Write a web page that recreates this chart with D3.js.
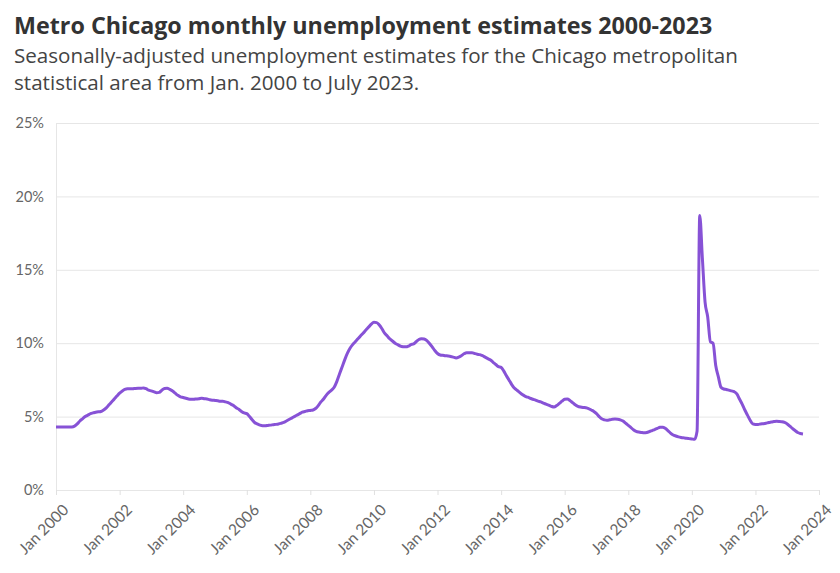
<html>
<head>
<meta charset="utf-8">
<script src="https://cdn.jsdelivr.net/npm/d3@7"></script>
<style>
  body { margin: 0; background: #fff; }
  text { font-family: Lato, "Open Sans", sans-serif; }
  .head { font-family: "Open Sans", Lato, sans-serif; }
</style>
</head>
<body>
<div id="chart"></div>
<script>
// monthly unemployment rate (%), Jan 2000 .. Jul 2023, one row per year
var rates = [
  4.3, 4.3, 4.3, 4.3, 4.3, 4.3, 4.3, 4.35, 4.5, 4.7, 4.85, 5.0,          // 2000
  5.1, 5.2, 5.25, 5.3, 5.33, 5.35, 5.45, 5.6, 5.8, 6.0, 6.2, 6.4,       // 2001
  6.6, 6.75, 6.85, 6.9, 6.9, 6.9, 6.92, 6.93, 6.93, 6.95, 6.9, 6.8,     // 2002
  6.75, 6.68, 6.63, 6.65, 6.8, 6.92, 6.93, 6.85, 6.75, 6.6, 6.45, 6.35, // 2003
  6.3, 6.25, 6.2, 6.18, 6.18, 6.2, 6.22, 6.25, 6.22, 6.2, 6.15, 6.12,   // 2004
  6.1, 6.08, 6.05, 6.05, 6.0, 5.95, 5.85, 5.75, 5.6, 5.5, 5.35, 5.25,   // 2005
  5.2, 5.0, 4.8, 4.6, 4.5, 4.42, 4.38, 4.38, 4.4, 4.42, 4.45, 4.47,     // 2006
  4.5, 4.55, 4.6, 4.7, 4.8, 4.9, 5.0, 5.1, 5.2, 5.3, 5.35, 5.4,         // 2007
  5.42, 5.45, 5.55, 5.75, 6.0, 6.2, 6.45, 6.65, 6.8, 7.0, 7.4, 7.9,     // 2008
  8.4, 8.9, 9.3, 9.65, 9.9, 10.1, 10.3, 10.5, 10.7, 10.9, 11.1, 11.3,   // 2009
  11.42, 11.4, 11.25, 11.0, 10.7, 10.5, 10.3, 10.15, 10.0, 9.9, 9.8, 9.76, // 2010
  9.75, 9.8, 9.9, 9.95, 10.1, 10.25, 10.3, 10.28, 10.18, 9.98, 9.75, 9.5,  // 2011
  9.3, 9.2, 9.18, 9.15, 9.13, 9.1, 9.05, 9.0, 9.05, 9.15, 9.28, 9.35,   // 2012
  9.35, 9.35, 9.3, 9.25, 9.22, 9.15, 9.05, 8.95, 8.85, 8.7, 8.55, 8.4,  // 2013
  8.35, 8.1, 7.8, 7.5, 7.2, 6.95, 6.8, 6.65, 6.5, 6.4, 6.32, 6.25,      // 2014
  6.18, 6.12, 6.05, 6.0, 5.92, 5.85, 5.78, 5.7, 5.65, 5.75, 5.9, 6.05,  // 2015
  6.18, 6.2, 6.1, 5.95, 5.8, 5.7, 5.65, 5.62, 5.6, 5.55, 5.45, 5.35,    // 2016
  5.2, 5.0, 4.85, 4.78, 4.75, 4.78, 4.82, 4.83, 4.82, 4.78, 4.7, 4.55,  // 2017
  4.4, 4.25, 4.1, 4.0, 3.95, 3.92, 3.9, 3.92, 3.98, 4.05, 4.12, 4.2,    // 2018
  4.27, 4.28, 4.2, 4.05, 3.88, 3.75, 3.68, 3.62, 3.58, 3.55, 3.52, 3.5, // 2019
  3.48, 3.45, 4.0, 18.7, 15.8, 12.8, 11.8, 10.1, 10.0, 8.5, 7.7, 7.0,   // 2020
  6.88, 6.85, 6.8, 6.75, 6.7, 6.55, 6.2, 5.85, 5.45, 5.1, 4.75, 4.5,    // 2021
  4.47, 4.47, 4.5, 4.52, 4.55, 4.6, 4.63, 4.66, 4.68, 4.67, 4.65, 4.6,  // 2022
  4.5, 4.35, 4.2, 4.05, 3.92, 3.85, 3.82                                // 2023
];
var startYear = 2000;
var xTickYears = [2000, 2002, 2004, 2006, 2008, 2010, 2012, 2014, 2016, 2018, 2020, 2022, 2024];
var yTicks = [0, 5, 10, 15, 20, 25];

var title = "Metro Chicago monthly unemployment estimates 2000-2023";
var subtitle = ["Seasonally-adjusted unemployment estimates for the Chicago metropolitan",
                "statistical area from Jan. 2000 to July 2023."];

var width = 840, height = 573;
var margin = {top: 123, right: 21, bottom: 83, left: 56};

var svg = d3.select("#chart").append("svg")
  .attr("width", width)
  .attr("height", height);

var data = rates.map(function (v, i) {
  return {date: new Date(startYear, i, 1), value: v};
});

var x = d3.scaleTime()
  .domain([new Date(xTickYears[0], 0, 1), new Date(xTickYears[xTickYears.length - 1], 0, 1)])
  .range([margin.left, width - margin.right]);
var y = d3.scaleLinear()
  .domain([0, 25])
  .range([height - margin.bottom, margin.top]);

// header
svg.append("text")
  .attr("class", "head")
  .attr("x", 14).attr("y", 34)
  .style("font-size", "23.3px").style("font-weight", "bold").style("fill", "#333")
  .text(title);
svg.selectAll(".sub").data(subtitle).enter().append("text")
  .attr("class", "sub head")
  .attr("x", 14).attr("y", function (d, i) { return 63 + i * 27; })
  .style("font-size", "20.6px").style("fill", "#444")
  .text(function (d) { return d; });

// y grid + labels
var yAxis = svg.append("g")
  .attr("transform", "translate(" + margin.left + ",0)")
  .call(d3.axisLeft(y).tickValues(yTicks)
    .tickSize(-(width - margin.left - margin.right))
    .tickPadding(12)
    .tickFormat(function (d) { return d + "%"; }));
yAxis.select(".domain").attr("stroke", "#e6e6e6");
yAxis.selectAll(".tick line").attr("stroke", "#e6e6e6");
yAxis.selectAll(".tick text").style("font-size", "14.5px").style("fill", "#666");

// x axis
var xAxis = svg.append("g")
  .attr("transform", "translate(0," + (height - margin.bottom) + ")")
  .call(d3.axisBottom(x)
    .tickValues(xTickYears.map(function (yr) { return new Date(yr, 0, 1); }))
    .tickSize(5)
    .tickFormat(d3.timeFormat("Jan %Y")));
xAxis.select(".domain").attr("stroke", "#e6e6e6");
xAxis.selectAll(".tick line").attr("stroke", "#e0e0e0");
xAxis.selectAll(".tick text")
  .style("font-size", "15.5px").style("fill", "#666")
  .style("text-anchor", "end")
  .attr("dy", null)
  .attr("y", 0)
  .attr("transform", "translate(13,21) rotate(-45)");

// the line
var line = d3.line()
  .x(function (d) { return x(d.date); })
  .y(function (d) { return y(d.value); })
  .curve(d3.curveMonotoneX);

svg.append("path")
  .datum(data)
  .attr("fill", "none")
  .attr("stroke", "#8752d6")
  .attr("stroke-width", 3)
  .attr("stroke-linejoin", "round")
  .attr("d", line);
</script>
</body>
</html>
